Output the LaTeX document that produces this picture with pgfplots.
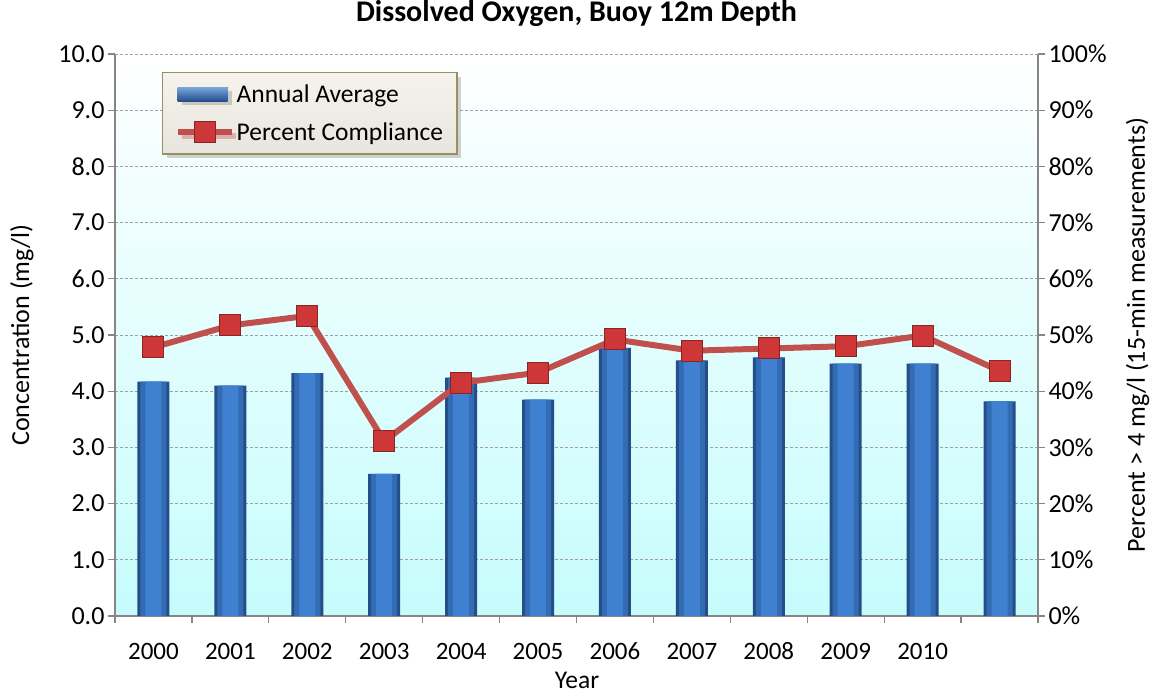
\documentclass[border=0pt]{standalone}
\usepackage{fontspec}
\setmainfont{Carlito}
\usepackage{pgfplots}
\pgfplotsset{compat=1.18}
\usetikzlibrary{shadows}
\definecolor{barDark}{RGB}{35,78,138}
\definecolor{barMid}{RGB}{52,108,180}
\definecolor{barLight}{RGB}{64,128,208}
\definecolor{lineRed}{RGB}{192,80,77}
\definecolor{markRed}{RGB}{205,55,55}
\definecolor{markEdge}{RGB}{140,35,35}
\definecolor{axGray}{RGB}{134,134,134}
\definecolor{bgBottom}{RGB}{198,252,252}
\definecolor{legFill}{RGB}{245,243,235}
\definecolor{legEdge}{RGB}{150,145,95}
\pgfplotstableread{
x y
0 4.17
1 4.10
2 4.32
3 2.53
4 4.24
5 3.85
6 4.77
7 4.55
8 4.60
9 4.49
10 4.49
11 3.82
}\avgdata
\pgfplotstableread{
x p
0 47.8
1 51.7
2 53.4
3 31.1
4 41.5
5 43.3
6 49.2
7 47.2
8 47.6
9 48.0
10 49.9
11 43.6
}\pctdata
\pgfplotsset{
  linelegend/.style={legend image code/.code={\draw[mark repeat=2, mark phase=2, ##1] plot coordinates {(0pt,0pt) (27pt,0pt) (54pt,0pt)};}},
  barlegend/.style={legend image code/.code={\fill[top color=barLight!70!white, bottom color=barDark] (0pt,-7pt) rectangle (50pt,7pt);}},
}
\begin{document}
\begin{tikzpicture}[x=1pt,y=1pt]
\useasboundingbox (0,0) rectangle (1154,693);
\begin{axis}[
  at={(115pt,77pt)}, anchor=south west,
  width=923pt, height=562pt, scale only axis,
  xmin=-0.5, xmax=11.5, ymin=0, ymax=10,
  axis x line*=bottom, axis y line*=left,
  axis line style={axGray, line width=1.6pt},
  xtick={0,...,10},
  xticklabels={2000,2001,2002,2003,2004,2005,2006,2007,2008,2009,2010},
  minor xtick={-0.5,0.5,...,11.5},
  x tick style={axGray, line width=1.2pt},
  major x tick style={draw=none},
  minor tick length=7pt,
  tick align=outside,
  xticklabel style={anchor=center, yshift=-28pt, font=\fontsize{25}{30}\selectfont},
  ytick={0,1,...,10},
  y tick style={axGray, line width=1.2pt},
  major tick length=7pt,
  yticklabel style={/pgf/number format/fixed, /pgf/number format/fixed zerofill, /pgf/number format/precision=1, font=\fontsize{26}{31}\selectfont},
  /pgf/number format/assume math mode=true,
  ymajorgrids,
  grid style={dash pattern=on 3pt off 2pt, gray!75, line width=0.9pt},
  axis background/.style={shade, top color=white, bottom color=bgBottom},
  title={Dissolved Oxygen, Buoy 12m Depth},
  title style={at={(axis description cs:0.5,1.0605)}, anchor=center, font=\bfseries\fontsize{30}{36}\selectfont},
  xlabel={Year},
  xlabel style={at={(axis description cs:0.5005,-0.114)}, anchor=center, font=\fontsize{25.5}{31}\selectfont},
  ylabel={Concentration (mg/l)},
  ylabel style={at={(axis description cs:-0.1008,0.5)}, anchor=center, font=\fontsize{26}{31}\selectfont},
  legend style={at={(axis description cs:0.051,0.968)}, anchor=north west,
    draw=legEdge, line width=1.2pt, top color=legFill, bottom color=legFill!88!gray,
    drop shadow={opacity=0.35, shadow xshift=4pt, shadow yshift=-4pt},
    font=\fontsize{25.5}{30}\selectfont, row sep=15pt, inner xsep=12pt, inner ysep=10pt},
  legend cell align=left,
]
\addplot[ybar, bar width=32pt, bar shift=0pt, draw=none, fill=barDark, barlegend] table[x=x,y=y] {\avgdata};
\addlegendentry{Annual Average}
\addplot[ybar, bar width=26pt, bar shift=0pt, draw=none, fill=barMid, forget plot] table[x=x,y=y] {\avgdata};
\addplot[ybar, bar width=16pt, bar shift=0pt, draw=none, fill=barLight, forget plot] table[x=x,y=y] {\avgdata};
\addlegendimage{line width=6pt, lineRed, mark=square*, mark size=10.5pt, mark options={fill=markRed, draw=markEdge, line width=1pt}, linelegend}
\addlegendentry{Percent Compliance}
\end{axis}
\begin{axis}[
  at={(115pt,77pt)}, anchor=south west,
  width=923pt, height=562pt, scale only axis,
  xmin=-0.5, xmax=11.5, ymin=0, ymax=100,
  hide x axis,
  axis y line*=right,
  axis line style={axGray, line width=1.6pt},
  ytick={0,10,...,100},
  yticklabel={\pgfmathprintnumber{\tick}\%},
  y tick style={axGray, line width=1.2pt},
  major tick length=7pt, tick align=outside,
  /pgf/number format/assume math mode=true,
  yticklabel style={font=\fontsize{26}{31}\selectfont},
  ylabel={Percent > 4 mg/l (15-min measurements)},
  ylabel style={at={(axis description cs:1.108,0.5)}, anchor=center, font=\fontsize{26}{31}\selectfont},
]
\addplot[line width=6pt, lineRed, mark=square*, mark size=10.5pt, mark options={fill=markRed, draw=markEdge, line width=1pt}]
  table[x=x,y=p] {\pctdata};
\end{axis}
\end{tikzpicture}
\end{document}
